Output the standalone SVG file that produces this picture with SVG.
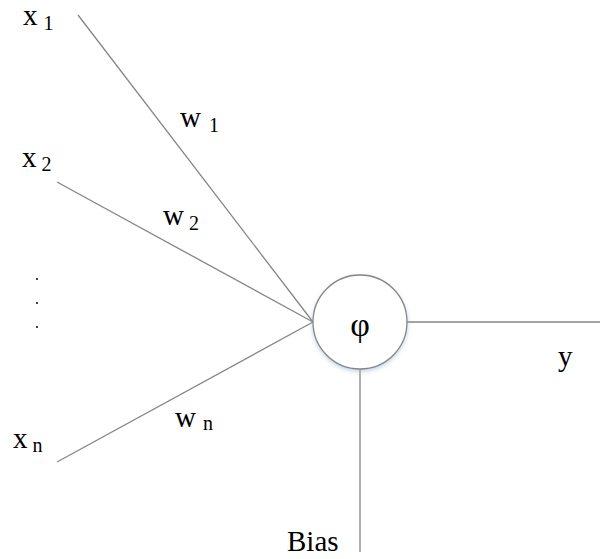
<svg xmlns="http://www.w3.org/2000/svg" width="600" height="559" viewBox="0 0 600 559">
<style>
.ln{stroke:#858585;stroke-width:1.3;fill:none}
.t{font-family:"Liberation Serif",serif;font-size:29px;fill:#000}
.s{font-size:20px}
.phi{font-size:34px}
</style>
<defs>
<filter id="sh" x="-20%" y="-20%" width="140%" height="140%">
<feDropShadow dx="0" dy="2" stdDeviation="2" flood-color="#9fb7d8" flood-opacity="0.6"/>
</filter>
</defs>
<rect width="600" height="559" fill="#fff"/>
<g id="connectors">
<line class="ln" x1="78" y1="15" x2="313" y2="322"/>
<line class="ln" x1="57" y1="182" x2="313" y2="322"/>
<line class="ln" x1="57" y1="462" x2="313" y2="322"/>
<line class="ln" x1="407" y1="322" x2="600" y2="322"/>
<line class="ln" x1="360" y1="368" x2="360" y2="552"/>
</g>
<g id="neuron">
<circle cx="360" cy="322" r="47" fill="#fff" stroke="#858585" stroke-width="1.3" filter="url(#sh)"/>
<text class="t phi" x="360" y="336" text-anchor="middle">φ</text>
</g>
<g id="x1"><text class="t" x="23" y="25">x<tspan class="s" dx="6" dy="5">1</tspan></text></g>
<g id="x2"><text class="t" x="22" y="167">x<tspan class="s" dx="5" dy="4">2</tspan></text></g>
<g id="dots">
<circle cx="37" cy="279" r="1" fill="#000"/>
<circle cx="37" cy="303" r="1" fill="#000"/>
<circle cx="37" cy="327" r="1" fill="#000"/>
</g>
<g id="xn"><text class="t" x="13" y="448">x<tspan class="s" dx="5" dy="4">n</tspan></text></g>
<g id="w1"><text class="t" x="180" y="127">w<tspan class="s" dx="8" dy="5">1</tspan></text></g>
<g id="w2"><text class="t" x="163" y="225">w<tspan class="s" dx="5" dy="5">2</tspan></text></g>
<g id="wn"><text class="t" x="175" y="427">w<tspan class="s" dx="7" dy="3">n</tspan></text></g>
<g id="y"><text class="t" x="558" y="366">y</text></g>
<g id="bias"><text class="t" x="287" y="551">Bias</text></g>
</svg>
